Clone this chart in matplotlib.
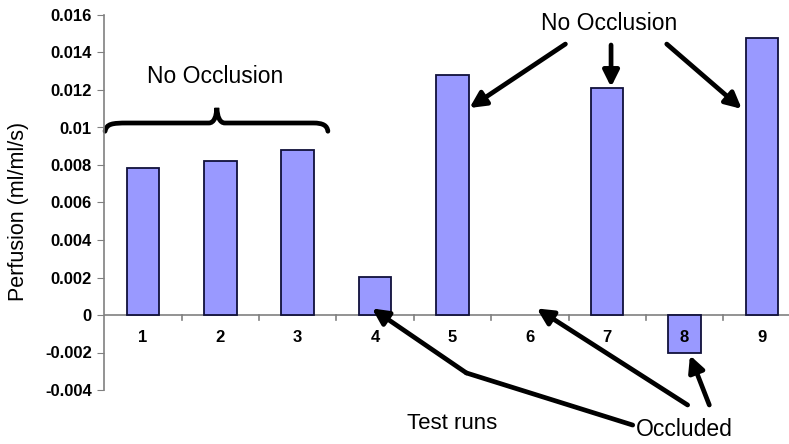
import numpy as np
import matplotlib.pyplot as plt
from matplotlib.path import Path
from matplotlib.patches import PathPatch

plt.rcParams['font.family'] = ['Liberation Sans', 'DejaVu Sans']

runs = [1, 2, 3, 4, 5, 6, 7, 8, 9]
perfusion = [0.00785, 0.0082, 0.0088, 0.00203, 0.0128, 0.0, 0.0121, -0.00205, 0.01475]
yticks = [-0.004, -0.002, 0, 0.002, 0.004, 0.006, 0.008, 0.01, 0.012, 0.014, 0.016]
ytick_labels = ["-0.004", "-0.002", "0", "0.002", "0.004", "0.006", "0.008", "0.01", "0.012", "0.014", "0.016"]

fig = plt.figure(figsize=(7.89, 4.44), dpi=100)
ax = fig.add_axes([104.3 / 789, 54 / 444, 696.3 / 789, 375 / 444])

edges = ['#10103a' if v != 0 else 'none' for v in perfusion]
ax.bar(runs, perfusion, width=0.42, color='#9999ff', edgecolor=edges, linewidth=1.3, zorder=2)

ax.set_xlim(0.5, 9.5)
ax.set_ylim(-0.004, 0.016)
ax.set_yticks(yticks)
ax.set_yticklabels(ytick_labels, fontsize=12, fontweight='bold')
ax.tick_params(axis='y', direction='out', length=5, color='#808080', pad=4)

for s in ['top', 'right', 'bottom']:
    ax.spines[s].set_visible(False)
ax.spines['left'].set_color('#808080')
ax.spines['left'].set_linewidth(1.2)

# zero line with category separators
ax.axhline(0, color='#808080', lw=1.2, zorder=1)
ax.set_xticks([])
for k in np.arange(1.5, 9.5, 1.0):
    ax.plot([k, k], [0, -0.00025], color='#808080', lw=1.2, clip_on=False)
for r in runs:
    ax.text(r, -0.0012, str(r), ha='center', va='center', fontsize=12, fontweight='bold', zorder=3)

fig.text(19 / 789, 1 - 211 / 444, "Perfusion (ml/ml/s)", rotation=90, ha='center', va='center', fontsize=15.5)

ax.text(4.99, -0.00576, "Test runs", ha='center', va='center', fontsize=16, clip_on=False)
ax.text(8.0, -0.0061, "Occluded", ha='center', va='center', fontsize=16.5, clip_on=False)
ax.text(1.93, 0.0127, "No Occlusion", ha='center', va='center', fontsize=16.5)
ax.text(7.02, 0.01557, "No Occlusion", ha='center', va='center', fontsize=16.5)

# curly brace over runs 1-3
verts = [(0.51, 0.0098), (0.53, 0.0102), (0.6, 0.01024), (0.8, 0.01024),
         (1.3, 0.01024), (1.75, 0.01024), (1.85, 0.01024),
         (1.92, 0.01024), (1.95, 0.0106), (1.955, 0.01105),
         (1.96, 0.0106), (1.99, 0.01024), (2.06, 0.01024),
         (2.3, 0.01024), (2.9, 0.01024), (3.2, 0.01024),
         (3.33, 0.01024), (3.38, 0.0101), (3.39, 0.0098)]
codes = [Path.MOVETO] + [Path.CURVE4] * 18
brace = PathPatch(Path(verts, codes), fill=False, lw=3.4, color='black', capstyle='round', clip_on=False)
ax.add_patch(brace)

arrow = dict(arrowstyle='-|>', lw=3.4, color='black', mutation_scale=24, shrinkA=0, shrinkB=0)

# No Occlusion arrows
ax.annotate("", xy=(5.22, 0.01104), xytext=(6.46, 0.01445), arrowprops=arrow)
ax.annotate("", xy=(7.05, 0.01216), xytext=(7.05, 0.0144), arrowprops=arrow)
ax.annotate("", xy=(8.74, 0.01099), xytext=(7.77, 0.01445), arrowprops=arrow)

# Occluded arrows
ax.plot([7.33, 5.18], [-0.00587, -0.00309], color='black', lw=3.4, solid_capstyle='round', clip_on=False)
ax.annotate("", xy=(3.96, 0.00035), xytext=(5.18, -0.00309), arrowprops=arrow, annotation_clip=False)
ax.annotate("", xy=(6.09, 0.00035), xytext=(8.04, -0.0048), arrowprops=arrow, annotation_clip=False)
ax.annotate("", xy=(8.07, -0.00215), xytext=(8.32, -0.0048), arrowprops=arrow, annotation_clip=False)

fig.savefig("out.png", dpi=100)
